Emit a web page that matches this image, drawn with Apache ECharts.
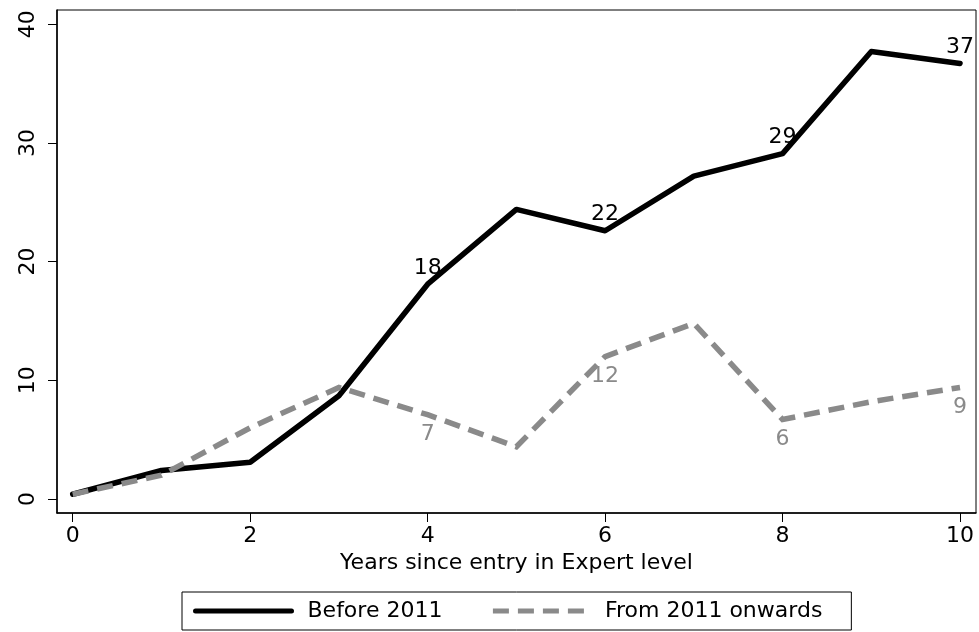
<!DOCTYPE html>
<html>
<head>
<meta charset="utf-8">
<script src="https://cdn.jsdelivr.net/npm/echarts@6/dist/echarts.min.js"></script>
<style>
html, body { margin: 0; padding: 0; background: #fff; }
#chart { width: 979px; height: 632px; }
</style>
</head>
<body>
<div id="chart"></div>
<script>
// Data
const years = [0, 1, 2, 3, 4, 5, 6, 7, 8, 9, 10];
const before2011 = [0.4, 2.4, 3.1, 8.7, 18.1, 24.4, 22.6, 27.2, 29.1, 37.7, 36.7];
const from2011 = [0.4, 2.0, 6.0, 9.4, 7.1, 4.4, 12.0, 14.8, 6.7, 8.2, 9.4];
const beforeLabels = ['', '', '', '', '18', '', '22', '', '29', '', '37'];
const fromLabels = ['', '', '', '', '7', '', '12', '', '6', '', '9'];
const xTicks = [0, 2, 4, 6, 8, 10];
const yTicks = [0, 10, 20, 30, 40];
const seriesNames = ['Before 2011', 'From 2011 onwards'];
const xTitle = 'Years since entry in Expert level';

const FONT = 'DejaVu Sans';
const GRAY = '#8a8a8a';

const chart = echarts.init(document.getElementById('chart'), null, { renderer: 'canvas' });

const option = {
  animation: false,
  backgroundColor: '#ffffff',
  textStyle: { fontFamily: FONT },
  grid: {
    left: 57, right: 3, top: 10, bottom: 119,
    show: true, borderColor: '#000', borderWidth: 1, backgroundColor: 'transparent'
  },
  legend: {
    left: 182, top: 592,
    orient: 'horizontal',
    padding: [8, 29, 8, 11],
    itemGap: 48,
    itemWidth: 96,
    itemHeight: 26,
    borderColor: '#000',
    borderWidth: 1,
    lineStyle: { width: 5 },
    itemStyle: { opacity: 0 },
    textStyle: { fontFamily: FONT, fontSize: 22, color: '#000', padding: [0, 0, 0, 11] },
    data: seriesNames
  },
  xAxis: {
    type: 'value',
    min: -0.177, max: 10.18,
    name: xTitle,
    nameLocation: 'middle',
    nameGap: 37,
    nameTextStyle: { fontFamily: FONT, fontSize: 22, color: '#000' },
    splitLine: { show: false },
    axisLine: { show: true, onZero: false, lineStyle: { color: '#000', width: 1.5 } },
    axisTick: { show: true, inside: false, length: 9, customValues: xTicks, lineStyle: { color: '#000', width: 1 } },
    axisLabel: { customValues: xTicks, fontFamily: FONT, fontSize: 22, color: '#000', margin: 12 }
  },
  yAxis: {
    type: 'value',
    min: -1.18, max: 41.2,
    splitLine: { show: false },
    axisLine: { show: true, onZero: false, lineStyle: { color: '#000', width: 1.5 } },
    axisTick: { show: true, inside: false, length: 9, customValues: yTicks, lineStyle: { color: '#000', width: 1 } },
    axisLabel: { customValues: yTicks, rotate: 90, fontFamily: FONT, fontSize: 22, color: '#000', margin: 18 }
  },
  series: [
    {
      name: seriesNames[0],
      type: 'line',
      symbol: 'circle',
      symbolSize: 0,
      showSymbol: true,
      data: years.map((x, i) => [x, before2011[i]]),
      lineStyle: { color: '#000', width: 5.5, cap: 'round', join: 'round' },
      itemStyle: { color: '#000' },
      label: {
        show: true, position: 'top', distance: 5,
        fontFamily: FONT, fontSize: 22, color: '#000',
        formatter: p => beforeLabels[p.dataIndex]
      },
      z: 2
    },
    {
      name: seriesNames[1],
      type: 'line',
      symbol: 'circle',
      symbolSize: 0,
      showSymbol: true,
      data: years.map((x, i) => [x, from2011[i]]),
      lineStyle: { color: GRAY, width: 5.5, type: [16, 9], cap: 'butt', join: 'miter' },
      itemStyle: { color: GRAY },
      label: {
        show: true, position: 'bottom', distance: 9,
        fontFamily: FONT, fontSize: 22, color: GRAY,
        formatter: p => fromLabels[p.dataIndex]
      },
      z: 3
    }
  ]
};

chart.setOption(option);
</script>
</body>
</html>
